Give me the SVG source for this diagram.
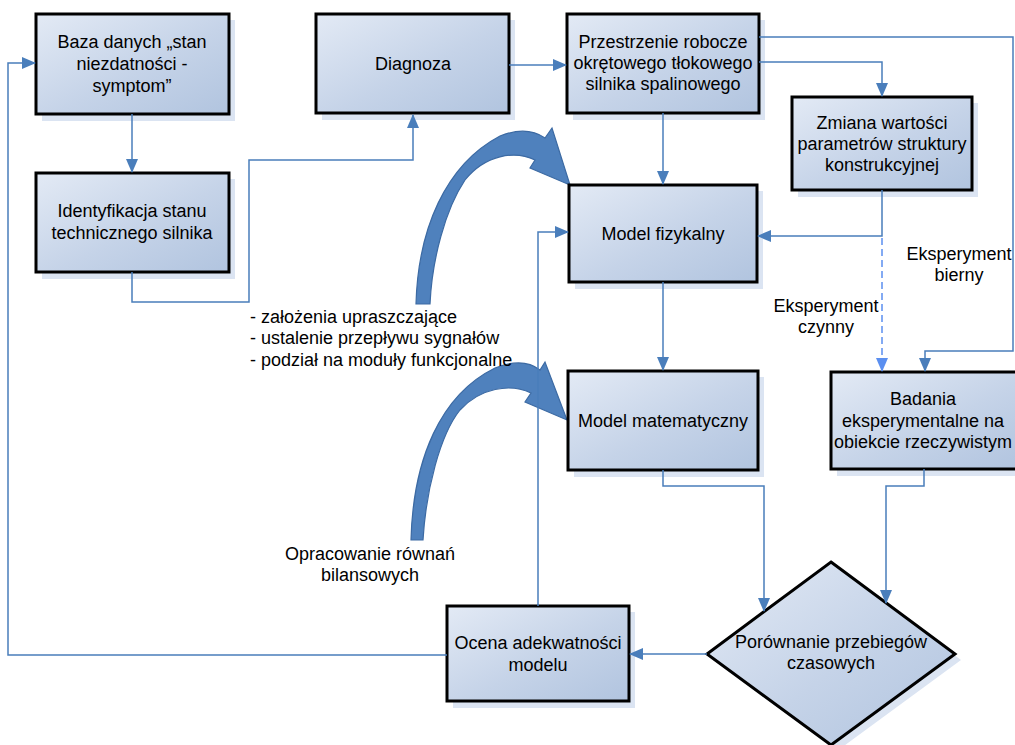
<svg xmlns="http://www.w3.org/2000/svg" width="1015" height="745" viewBox="0 0 1015 745">
<defs>
<linearGradient id="g" x1="0" y1="0" x2="1" y2="1">
<stop offset="0" stop-color="#e3eaf5"/>
<stop offset="0.55" stop-color="#c5d3e8"/>
<stop offset="1" stop-color="#b1c4df"/>
</linearGradient>
<marker id="ah" markerUnits="userSpaceOnUse" markerWidth="14" markerHeight="12" refX="13" refY="6" orient="auto">
<path d="M0,0 L14,6 L0,12 Z" fill="#4a7ebb"/>
</marker>
<marker id="ahd" markerUnits="userSpaceOnUse" markerWidth="14" markerHeight="12" refX="13" refY="6" orient="auto">
<path d="M0,0 L14,6 L0,12 Z" fill="#5b8ff0"/>
</marker>
<style>
.box{fill:url(#g);stroke:#000;stroke-width:3}
.sh{fill:#dbe4f2}
.t{font-family:"Liberation Sans",Arial,sans-serif;font-size:18px;fill:#000;text-anchor:middle}
.tl{font-family:"Liberation Sans",Arial,sans-serif;font-size:18px;fill:#000}
.c{fill:none;stroke:#4a7ebb;stroke-width:1.5;marker-end:url(#ah)}
.cd{fill:none;stroke:#5b8ff0;stroke-width:1.5;stroke-dasharray:7,4;marker-end:url(#ahd)}
.big{fill:#4f81bd;stroke:#3c6aa3;stroke-width:1.2}
</style>
</defs>
<rect width="1015" height="745" fill="#fff"/>

<g id="curved-arrows">
<path class="big" d="M416,304 C418,230 445,165 500,136 C520,128 535,131 545,138 L552,128 L570,185 L530,168 L535,160 C515,150 485,155 465,180 C445,210 432,260 430,304 Z"/>
<path class="big" d="M411,540 C413,460 440,395 495,368 C515,360 530,362 540,370 L545,362 L567,420 L525,402 L531,393 C510,383 480,388 460,410 C440,435 426,490 423,540 Z"/>
</g>

<g id="baza">
<rect class="sh" x="42" y="20" width="193" height="101"/>
<rect class="box" x="36" y="14" width="193" height="100"/>
<text class="t" x="132" y="48">Baza danych „stan</text>
<text class="t" x="132" y="70">niezdatności -</text>
<text class="t" x="132" y="92">symptom”</text>
</g>
<g id="identyfikacja">
<rect class="sh" x="42" y="179" width="193" height="100"/>
<rect class="box" x="36" y="173" width="193" height="99"/>
<text class="t" x="132" y="217">Identyfikacja stanu</text>
<text class="t" x="132" y="239">technicznego silnika</text>
</g>
<g id="diagnoza">
<rect class="sh" x="322" y="20" width="193" height="100"/>
<rect class="box" x="316" y="14" width="193" height="99"/>
<text class="t" x="413" y="70">Diagnoza</text>
</g>
<g id="przestrzenie">
<rect class="sh" x="573" y="20" width="192" height="100"/>
<rect class="box" x="567" y="14" width="192" height="99"/>
<text class="t" x="663" y="48">Przestrzenie robocze</text>
<text class="t" x="663" y="69">okrętowego tłokowego</text>
<text class="t" x="663" y="90">silnika spalinowego</text>
</g>
<g id="zmiana">
<rect class="sh" x="798" y="103" width="180" height="94"/>
<rect class="box" x="792" y="97" width="180" height="93"/>
<text class="t" x="882" y="129">Zmiana wartości</text>
<text class="t" x="882" y="150">parametrów struktury</text>
<text class="t" x="882" y="171">konstrukcyjnej</text>
</g>
<g id="model-fizykalny">
<rect class="sh" x="575" y="191" width="188" height="98"/>
<rect class="box" x="569" y="185" width="188" height="97"/>
<text class="t" x="663" y="240">Model fizykalny</text>
</g>
<g id="model-matematyczny">
<rect class="sh" x="574" y="377" width="190" height="100"/>
<rect class="box" x="568" y="371" width="190" height="99"/>
<text class="t" x="663" y="427">Model matematyczny</text>
</g>
<g id="badania">
<rect class="sh" x="837" y="378" width="190" height="98"/>
<rect class="box" x="831" y="372" width="190" height="97"/>
<text class="t" x="923" y="405">Badania</text>
<text class="t" x="923" y="427">eksperymentalne na</text>
<text class="t" x="923" y="448">obiekcie rzeczywistym</text>
</g>
<g id="porownanie">
<path class="sh" d="M837,568 L961,660 L837,751 L713,660 Z"/>
<path class="box" d="M831,562 L955,654 L831,745 L707,654 Z"/>
<text class="t" x="831" y="648">Porównanie przebiegów</text>
<text class="t" x="831" y="669">czasowych</text>
</g>
<g id="ocena">
<rect class="sh" x="453" y="612" width="182" height="96"/>
<rect class="box" x="447" y="606" width="182" height="95"/>
<text class="t" x="538" y="649">Ocena adekwatności</text>
<text class="t" x="538" y="671">modelu</text>
</g>

<g id="labels">
<text class="t" x="959" y="260">Eksperyment</text>
<text class="t" x="959" y="281">bierny</text>
<text class="t" x="826" y="312">Eksperyment</text>
<text class="t" x="826" y="333">czynny</text>
<text class="tl" x="250" y="323">- założenia upraszczające</text>
<text class="tl" x="250" y="344">- ustalenie przepływu sygnałów</text>
<text class="tl" x="250" y="366">- podział na moduły funkcjonalne</text>
<text class="t" x="370" y="560">Opracowanie równań</text>
<text class="t" x="370" y="581">bilansowych</text>
</g>

<g id="connectors">
<path class="c" d="M132,114 V172"/>
<path class="c" d="M132,272 V302 H249 V160 H413 V115"/>
<path class="c" d="M509,65 H566"/>
<path class="c" d="M759,62 H882 V96"/>
<path class="c" d="M759,37 H1013 V351 H925 V371"/>
<path class="c" d="M663,113 V184"/>
<path class="c" d="M882,190 V236 H758"/>
<path class="cd" d="M882,238 V371"/>
<path class="c" d="M663,282 V370"/>
<path class="c" d="M663,470 V486 H764 V611"/>
<path class="c" d="M924,469 V486 H886 V603"/>
<path class="c" d="M707,654 H630"/>
<path class="c" d="M447,655 H8 V63 H35"/>
<path class="c" d="M538,606 V232 H568"/>
</g>
</svg>
